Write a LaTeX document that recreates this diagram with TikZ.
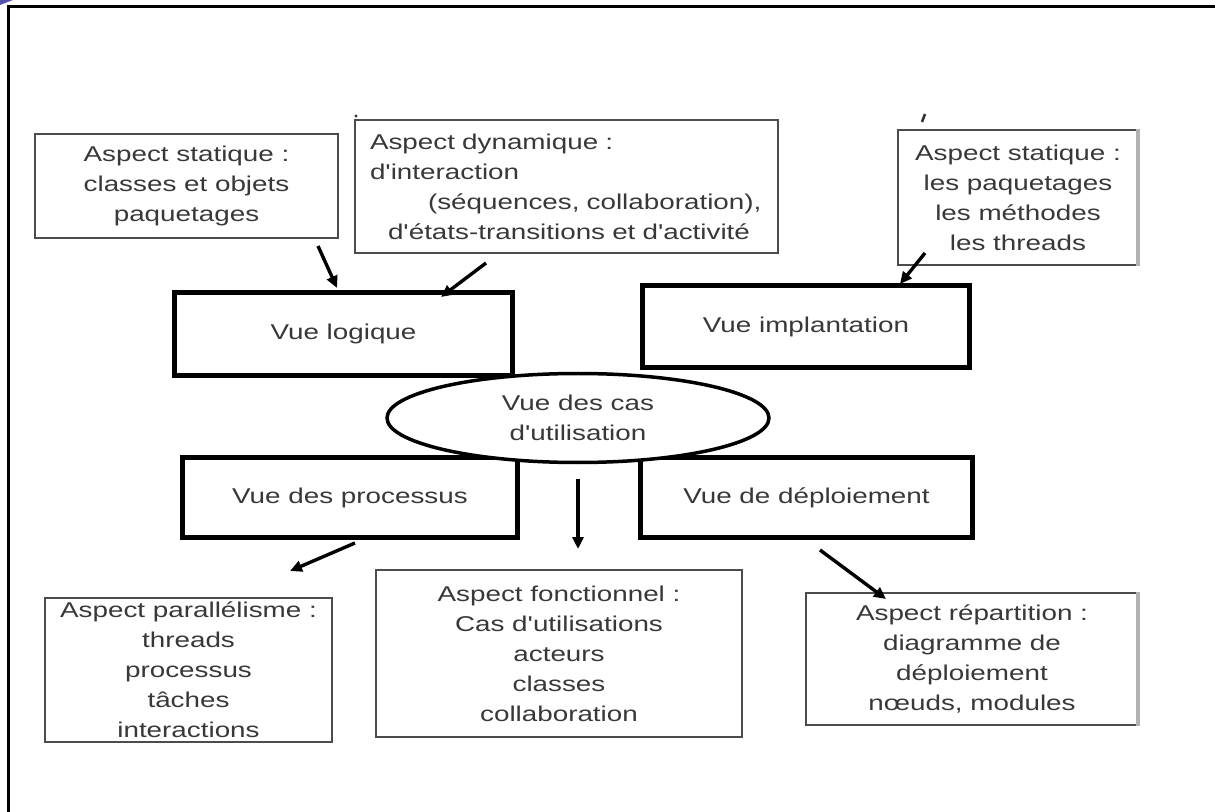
\documentclass[tikz,border=0pt]{standalone}
\usepackage{fontspec}
\newfontfamily\labfont[FakeStretch=1.3]{Liberation Sans}
\usetikzlibrary{arrows.meta,shapes.geometric,calc}

\begin{document}
\begin{tikzpicture}[x=0.5pt,y=-0.5pt,
  txt/.style={font=\labfont\fontsize{10.7}{15}\selectfont, text=black!78},
  aspect/.style={txt, draw=black!70, line width=1pt, rectangle, inner sep=0pt, align=center},
  vue/.style={txt, draw=black, line width=2.5pt, rectangle, inner sep=0pt, align=center},
  arr/.style={draw=black, line width=1.7pt, -{Triangle[length=6pt,width=5.5pt]}},
  frameline/.style={draw=black, line width=1.5pt},
]
\useasboundingbox (0,0) rectangle (1215,812);
\fill[white] (0,0) rectangle (1215,812);

% page frame and corner tab
\fill[blue!35!gray] (0,0) -- (13,0) -- (0,5) -- cycle;
\draw[frameline] (8,812) -- (8,6.5) -- (1215,6.5);

% aspect boxes, top row
\node[aspect, minimum width=151.5pt, minimum height=52pt] (b1) at (186.5,186)
  {Aspect statique :\\classes et objets\\paquetages};
\node[aspect, minimum width=211.5pt, minimum height=66.5pt, text width=196.5pt, align=left] (b2) at (566.5,186.5)
  {Aspect dynamique :\\d'interaction\\\hspace*{29pt}(séquences, collaboration),\\\hspace*{9pt}d'états-transitions et d'activité};
\node[aspect, minimum width=120pt, minimum height=67.5pt] (b3) at (1018,197.5)
  {Aspect statique :\\les paquetages\\les méthodes\\les threads};
\draw[gray!60, line width=2pt] ([xshift=-0.5pt]b3.north east) -- ([xshift=-0.5pt]b3.south east);

% the four views
\node[vue, minimum width=169pt, minimum height=41.5pt] (vl) at (343.5,334) {Vue logique};
\node[vue, minimum width=163.5pt, minimum height=41pt] (vi) at (806,326.5) {Vue implantation};
\node[vue, minimum width=167.5pt, minimum height=40pt] (vp) at (350,497.5) {Vue des processus};
\node[vue, minimum width=166pt, minimum height=40pt] (vd) at (806.5,497.5) {Vue de déploiement};

% central use-case view
\node[txt, ellipse, draw=black, line width=1.75pt, fill=white, inner sep=0pt,
      minimum width=191pt, minimum height=44.5pt, align=center] (ell) at (578,418)
  {Vue des cas\\d'utilisation};

% aspect boxes, bottom row
\node[aspect, minimum width=143.5pt, minimum height=72pt] (bp) at (188.5,670)
  {Aspect parallélisme :\\threads\\processus\\tâches\\interactions};
\node[aspect, minimum width=183pt, minimum height=83.5pt] (bf) at (559,653.5)
  {Aspect fonctionnel :\\Cas d'utilisations\\acteurs\\classes\\collaboration};
\node[aspect, minimum width=166pt, minimum height=66pt] (br) at (972,659)
  {Aspect répartition :\\diagramme de\\déploiement\\nœuds, modules};
\draw[gray!60, line width=2pt] ([xshift=-0.5pt]br.north east) -- ([xshift=-0.5pt]br.south east);

% small stray marks above the top boxes
\fill[black!80] ($(b2.north west)+(2,-3)$) circle (1.6);
\draw[black!80, line width=1.3pt] ($(b3.north west)+(28,-15)$) -- ($(b3.north west)+(25,-7)$);

% connectors
\draw[arr] ($(b1.south)+(131.5,7)$) -- ($(vl.north)+(-6.5,-2)$);
\draw[arr] ($(b2.south)+(-80.5,9)$) -- ($(vl.north)+(97.5,7)$);
\draw[arr] ($(b3.south)+(-93,-13)$) -- ($(vi.north)+(94,1)$);
\draw[arr] ($(vp.south)+(5,3)$) -- ($(bp.north)+(101.5,-26)$);
\draw[arr] ($(ell.south)+(0,15)$) -- ($(bf.north)+(19,-20)$);
\draw[arr] ($(vd.south)+(13.5,10)$) -- ($(br.north)+(-86,7)$);
\end{tikzpicture}
\end{document}
